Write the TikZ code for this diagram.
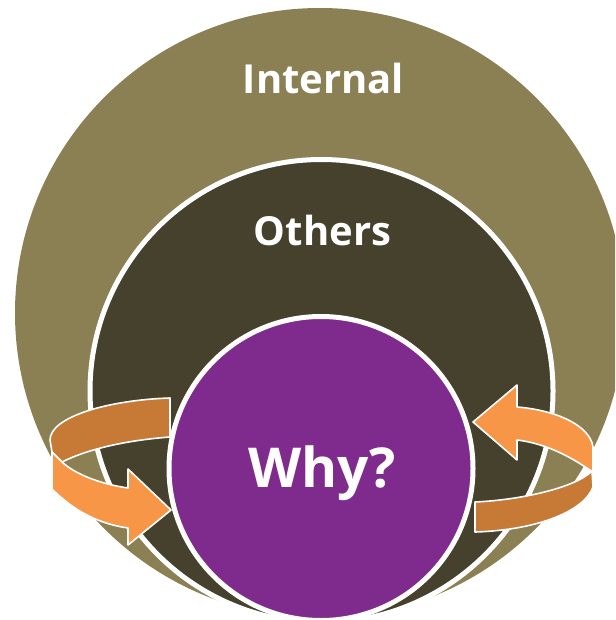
\documentclass[tikz,border=0pt]{standalone}
\usepackage{fontspec}
\setmainfont{Open Sans}
\definecolor{olivebg}{HTML}{8A8054}
\definecolor{darkbg}{HTML}{46412D}
\definecolor{whypurple}{HTML}{7F2A8D}
\definecolor{orlight}{HTML}{F79646}
\definecolor{ordark}{HTML}{C77936}
\begin{document}
\begin{tikzpicture}[x=1pt,y=-1pt,
  ring/.style={circle, inner sep=0pt, outer sep=0pt},
  lbl/.style={text=white, font=\bfseries, anchor=base, inner sep=0pt},
  band/.style={draw=white, line width=1.6pt, line join=round}]
\useasboundingbox (0,0) rectangle (615,620);
\clip (0,0) rectangle (615,620);
\node[ring, fill=olivebg, minimum size=610pt] (outer) at (320,313) {};
\node[ring, fill=darkbg, draw=white, line width=5pt, minimum size=463pt] (middle) at (321.5,391) {};
\node[ring, fill=whypurple, draw=white, line width=5pt, minimum size=304pt] (inner) at (321,468.5) {};
\node[lbl, font=\bfseries\fontsize{40}{40}\selectfont] (tint) at (323.5,94) {Internal};
\node[lbl, font=\bfseries\fontsize{40}{40}\selectfont] (toth) at (322.5,245) {Others};
\node[lbl, font=\bfseries\fontsize{55}{55}\selectfont] (twhy) at (322,487) {Why?};
% left ring arrow
\fill[band, fill=ordark] (170,398) .. controls (108,400) and (50,417) .. (50,440) -- (52,452) -- (62,462) .. controls (90,448) and (130,440) .. (170,437) -- cycle;
\fill[band, fill=orlight] (52,452) -- (52,489) .. controls (75,512) and (100,524) .. (128,528) -- (128,545) -- (171,510) -- (128,469) -- (128,488) .. controls (100,484) and (75,474) .. (62,462) -- cycle;
% right ring arrow
\fill[band, fill=ordark] (475,502) .. controls (520,500) and (575,488) .. (592,471) -- (593,487) .. controls (585,510) and (540,530) .. (475,532) -- cycle;
\fill[band, fill=orlight] (517,407) .. controls (555,410) and (590,425) .. (593,447) -- (593,472) .. controls (575,460) and (550,444) .. (517,440) -- (517,460) -- (473,422) -- (517,385) -- cycle;
\end{tikzpicture}
\end{document}
